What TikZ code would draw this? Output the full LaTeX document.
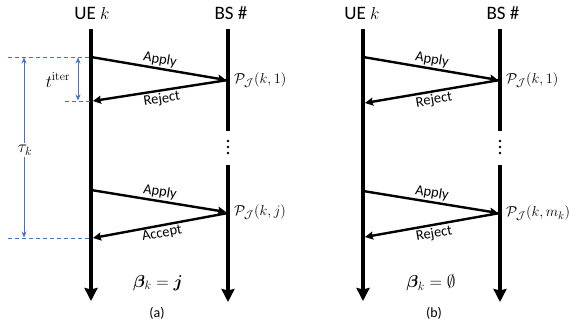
\documentclass[tikz,border=0pt]{standalone}
\usepackage{amsmath,amssymb,bm}
\usepackage[no-math]{fontspec}
\setmainfont{Carlito}
\usetikzlibrary{arrows.meta}
\definecolor{myblue}{HTML}{4472C4}
\tikzset{
  lifeline/.style={line width=4pt,-{Stealth[length=13pt,width=13pt,inset=1.5pt]}},
  lifeseg/.style={line width=4pt},
  msg/.style={line width=2.4pt,-{Stealth[length=8pt,width=8pt,inset=1pt]}},
  guide/.style={myblue,line width=0.9pt,dash pattern=on 4pt off 3pt},
  meas/.style={myblue,line width=0.9pt,{Stealth[length=6pt,width=5pt]}-{Stealth[length=6pt,width=5pt]}},
  head/.style={font=\fontsize{19}{22}\selectfont,inner sep=0pt},
  mlabel/.style={font=\fontsize{14.5}{16}\selectfont,inner sep=1.5pt},
  mathlab/.style={font=\fontsize{17}{19}\selectfont,inner sep=1pt},
  plabel/.style={font=\fontsize{15.5}{17}\selectfont,inner sep=0pt,anchor=west},
  captext/.style={font=\fontsize{14}{16}\selectfont,inner sep=0pt},
  betatext/.style={font=\fontsize{16.5}{18}\selectfont,inner sep=0pt},
  dotnode/.style={circle,fill=black,inner sep=0pt,minimum size=2.6pt},
}
\begin{document}
\begin{tikzpicture}[x=1pt,y=-1pt]
\useasboundingbox (0,0) rectangle (576,328);
% ---------- panel (a) ----------
\node[head] (ueA) at (92,13) {UE $k$};
\node[head] (bsA) at (231,13) {BS \#};
\coordinate (uaT) at (91,29);
\coordinate (uaB) at (91,301);
\coordinate (baT) at (228,29);
\coordinate (baM1) at (228,131);
\coordinate (baM2) at (228,165);
\coordinate (baB) at (228,302);
\draw[lifeline] (uaT) -- (uaB);
\draw[lifeseg] (baT) -- (baM1);
\draw[lifeline] (baM2) -- (baB);
\node[dotnode] (da1) at (228,141) {};
\node[dotnode] (da2) at (228,147) {};
\node[dotnode] (da3) at (228,153) {};
\coordinate (a1s) at (91,57);
\coordinate (a1e) at (226,80);
\coordinate (r1s) at (228,80);
\coordinate (r1e) at (93,101);
\coordinate (a2s) at (91,190);
\coordinate (a2e) at (226,212);
\coordinate (r2s) at (228,213);
\coordinate (r2e) at (93,238);
\draw[msg] (a1s) -- node[mlabel,above,sloped] {Apply} (a1e);
\draw[msg] (r1s) -- node[mlabel,below,sloped] {Reject} (r1e);
\draw[msg] (a2s) -- node[mlabel,above,sloped] {Apply} (a2e);
\draw[msg] (r2s) -- node[mlabel,below,sloped] {Accept} (r2e);
\node[plabel] (pa1) at (234,80) {$\mathcal{P}_{\mathcal{J}}(k,1)$};
\node[plabel] (pa2) at (234,212) {$\mathcal{P}_{\mathcal{J}}(k,j)$};
% blue guides
\coordinate (g1) at (8,57);
\coordinate (g2) at (65,101);
\coordinate (g3) at (8,238);
\coordinate (g1e) at (90,57);
\coordinate (g2e) at (90,101);
\coordinate (g3e) at (90,238);
\draw[guide] (g1) -- (g1e);
\draw[guide] (g2) -- (g2e);
\draw[guide] (g3) -- (g3e);
\coordinate (ti1) at (78,57.5);
\coordinate (ti2) at (78,100.5);
\draw[meas] (ti1) -- (ti2);
\node[mathlab] (tlab) at (58,80) {$t^{\mathrm{iter}}$};
\coordinate (tk1) at (24,57.5);
\coordinate (tk2) at (24,237.5);
\draw[meas] (tk1) -- (tk2);
\node[mathlab,fill=white,inner sep=2pt] (tklab) at (25,150) {$\tau_k$};
\node[betatext] (betaA) at (158,283) {$\bm{\beta}_k=\bm{j}$};
\node[captext] (capA) at (157,313) {(a)};
% ---------- panel (b) ----------
\node[head] (ueB) at (362,13) {UE $k$};
\node[head] (bsB) at (503,13) {BS \#};
\coordinate (ubT) at (363,29);
\coordinate (ubB) at (363,301);
\coordinate (bbT) at (500,29);
\coordinate (bbM1) at (500,131);
\coordinate (bbM2) at (500,165);
\coordinate (bbB) at (500,302);
\draw[lifeline] (ubT) -- (ubB);
\draw[lifeseg] (bbT) -- (bbM1);
\draw[lifeline] (bbM2) -- (bbB);
\node[dotnode] (db1) at (500,141) {};
\node[dotnode] (db2) at (500,147) {};
\node[dotnode] (db3) at (500,153) {};
\coordinate (b1s) at (363,57);
\coordinate (b1e) at (498,80);
\coordinate (s1s) at (500,80);
\coordinate (s1e) at (365,103);
\coordinate (b2s) at (363,191);
\coordinate (b2e) at (498,213);
\coordinate (s2s) at (500,213);
\coordinate (s2e) at (365,237);
\draw[msg] (b1s) -- node[mlabel,above,sloped] {Apply} (b1e);
\draw[msg] (s1s) -- node[mlabel,below,sloped] {Reject} (s1e);
\draw[msg] (b2s) -- node[mlabel,above,sloped] {Apply} (b2e);
\draw[msg] (s2s) -- node[mlabel,below,sloped] {Reject} (s2e);
\node[plabel] (pb1) at (506,80) {$\mathcal{P}_{\mathcal{J}}(k,1)$};
\node[plabel] (pb2) at (506,213) {$\mathcal{P}_{\mathcal{J}}(k,m_k)$};
\node[betatext] (betaB) at (431,283) {$\bm{\beta}_k=\emptyset$};
\node[captext] (capB) at (434,313) {(b)};
\end{tikzpicture}
\end{document}
